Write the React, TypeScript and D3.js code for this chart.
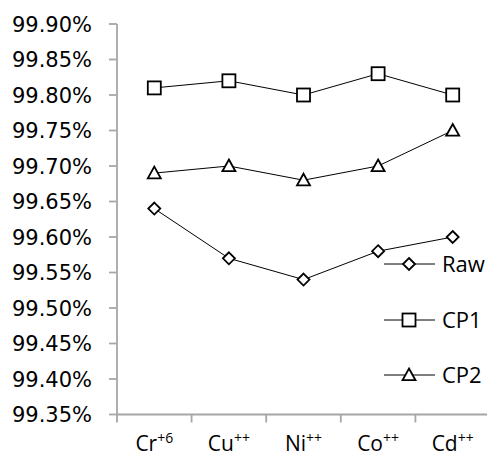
import React from "react";
import * as d3 from "d3";

const categories = ["Cr", "Cu", "Ni", "Co", "Cd"];
const charges = ["+6", "++", "++", "++", "++"];
const rawValues = [99.64, 99.57, 99.54, 99.58, 99.6];
const cp1Values = [99.81, 99.82, 99.8, 99.83, 99.8];
const cp2Values = [99.69, 99.7, 99.68, 99.7, 99.75];
const yTicks = [99.35, 99.4, 99.45, 99.5, 99.55, 99.6, 99.65, 99.7, 99.75, 99.8, 99.85, 99.9];
const seriesNames = ["Raw", "CP1", "CP2"];

const W = 487;
const H = 456;
const FONT = "'Open Sans', sans-serif";
const YFONT = "'DejaVu Sans', sans-serif";

function Marker({ kind, x, y }: { kind: string; x: number; y: number }) {
  const common = { fill: "white", stroke: "black", strokeWidth: 1.8 };
  if (kind === "Raw") {
    const r = 6;
    return <path d={`M${x},${y - r}L${x + r},${y}L${x},${y + r}L${x - r},${y}Z`} {...common} />;
  }
  if (kind === "CP1") {
    const s = 6.5;
    return <rect x={x - s} y={y - s} width={2 * s} height={2 * s} {...common} />;
  }
  const s = 6.5;
  return <path d={`M${x},${y - s}L${x + s},${y + s * 0.8}L${x - s},${y + s * 0.8}Z`} {...common} />;
}

export default function App() {
  const x = d3.scaleBand<string>().domain(categories).range([117, 490]).padding(0);
  const y = d3.scaleLinear().domain([99.35, 99.9]).range([414.5, 24]);
  const cx = (i: number) => (x(categories[i]) as number) + x.bandwidth() / 2;
  const line = d3
    .line<number>()
    .x((_, i) => cx(i))
    .y((d) => y(d));
  const series = [
    { name: "Raw", values: rawValues },
    { name: "CP1", values: cp1Values },
    { name: "CP2", values: cp2Values },
  ];
  const legendY = [264, 320, 375];
  const axisColor = "#a6a6a6";
  const boundaries = categories.map((c) => x(c) as number).concat([490]);

  return (
    <svg
      width={W}
      height={H}
      style={{ position: "absolute", left: 0, top: 0, background: "white" }}
      fontFamily={FONT}
    >
      <rect x={0} y={0} width={W} height={H} fill="white" />
      {/* y axis */}
      <line x1={117} x2={117} y1={y(99.9)} y2={y(99.35)} stroke={axisColor} strokeWidth={1.8} />
      {yTicks.map((t) => (
        <g key={t}>
          <line x1={109} x2={117} y1={y(t)} y2={y(t)} stroke={axisColor} strokeWidth={1.8} />
          <text x={92} y={y(t)} dy="0.36em" textAnchor="end" fontSize={21} fontFamily={YFONT} fill="black">
            {d3.format(".2f")(t) + "%"}
          </text>
        </g>
      ))}
      {/* x axis */}
      <line x1={117} x2={490} y1={y(99.35)} y2={y(99.35)} stroke={axisColor} strokeWidth={1.8} />
      {boundaries.map((b, i) => (
        <line key={i} x1={b} x2={b} y1={y(99.35)} y2={y(99.35) + 8} stroke={axisColor} strokeWidth={1.8} />
      ))}
      {categories.map((c, i) => (
        <text key={c} x={cx(i)} y={451} textAnchor="middle" fontSize={21} fill="black">
          {c}
          <tspan fontSize={14} dy={-8}>
            {charges[i]}
          </tspan>
        </text>
      ))}
      {/* series */}
      {series.map((s) => (
        <g key={s.name}>
          <path d={line(s.values) || ""} fill="none" stroke="black" strokeWidth={1} />
          {s.values.map((v, i) => (
            <Marker key={i} kind={s.name} x={cx(i)} y={y(v)} />
          ))}
        </g>
      ))}
      {/* legend */}
      {seriesNames.map((n, i) => (
        <g key={n}>
          <line x1={384} x2={435} y1={legendY[i]} y2={legendY[i]} stroke="black" strokeWidth={1} />
          <Marker kind={n} x={409} y={legendY[i]} />
          <text x={442} y={legendY[i]} dy="0.36em" fontSize={22} fill="black">
            {n}
          </text>
        </g>
      ))}
    </svg>
  );
}
